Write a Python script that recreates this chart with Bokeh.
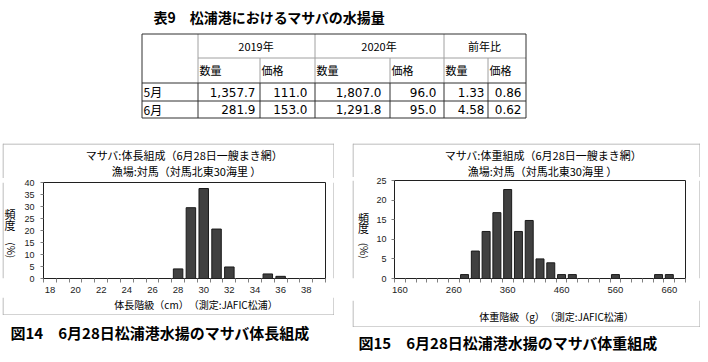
import math
from bokeh.plotting import figure
from bokeh.layouts import column, row, Spacer
from bokeh.models import Range1d, FixedTicker, ColumnDataSource
from bokeh.core.properties import value
from bokeh.embed import file_html
from bokeh.resources import INLINE

# ---------------- data ----------------
table_title = "表9　松浦港におけるマサバの水揚量"
year_headers = ["2019年", "2020年", "前年比"]
sub_headers = ["数量", "価格", "数量", "価格", "数量", "価格"]
months = ["5月", "6月"]
qty_2019 = [1357.7, 281.9]
price_2019 = [111.0, 153.0]
qty_2020 = [1807.0, 1291.8]
price_2020 = [96.0, 95.0]
ratio_qty = [1.33, 4.58]
ratio_price = [0.86, 0.62]

length_classes = [18, 19, 20, 21, 22, 23, 24, 25, 26, 27, 28, 29, 30, 31, 32, 33, 34, 35, 36, 37, 38, 39]
length_pct = [0, 0, 0, 0, 0, 0, 0, 0, 0, 0, 4.0, 29.5, 37.5, 20.6, 4.8, 0, 0, 1.9, 0.9, 0, 0, 0]
length_ticks = [18, 20, 22, 24, 26, 28, 30, 32, 34, 36, 38]
length_yticks = [0, 5, 10, 15, 20, 25, 30, 35, 40]

weight_classes = [160, 180, 200, 220, 240, 260, 280, 300, 320, 340, 360, 380, 400, 420,
                  440, 460, 480, 500, 520, 540, 560, 580, 600, 620, 640, 660, 680]
weight_pct = [0, 0, 0, 0, 0, 0, 1.0, 7.0, 12.0, 16.8, 22.7, 12.0, 14.8, 5.0,
              4.0, 1.0, 1.0, 0, 0, 0, 1.0, 0, 0, 0, 1.0, 1.0, 0]
weight_ticks = [160, 260, 360, 460, 560, 660]
weight_yticks = [0, 5, 10, 15, 20, 25]

len_title1 = "マサバ:体長組成（6月28日一艘まき網）"
len_title2 = "漁場:対馬（対馬北東30海里 ）"
len_xlabel = "体長階級（cm）　（測定:JAFIC松浦）"
len_caption = "図14　6月28日松浦港水揚のマサバ体長組成"
wt_title1 = "マサバ:体重組成（6月28日一艘まき網）"
wt_title2 = "漁場:対馬（対馬北東30海里 ）"
wt_xlabel = "体重階級（g）　（測定:JAFIC松浦）"
wt_caption = "図15　6月28日松浦港水揚のマサバ体重組成"
ylabel_chars = ["頻", "度"]
ylabel_unit = "(%)"

JP = "Noto Sans CJK JP"
NUM = "DejaVu Sans"
TICKF = "Liberation Sans"
BOXC = "#a6a6a6"


def text_fig(w, h):
    f = figure(width=w, height=h, output_backend="svg", toolbar_location=None,
               x_range=Range1d(0, w), y_range=Range1d(h, 0),
               min_border=0, min_border_left=0, min_border_right=0,
               min_border_top=0, min_border_bottom=0)
    f.axis.visible = False
    f.grid.visible = False
    f.outline_line_color = None
    f.title.visible = False
    return f


def put(f, x, y, t, size, font=JP, bold=False, align="center", angle=0.0):
    f.text(x=[x], y=[y], text=[t], text_font=value(font), text_font_size=size,
           text_font_style="bold" if bold else "normal", text_align=align,
           text_baseline="middle", text_color="black", angle=angle)


def lines(f, segs, color, width=1):
    d = dict(x0=[s[0] for s in segs], y0=[s[1] for s in segs],
             x1=[s[2] for s in segs], y1=[s[3] for s in segs])
    f.segment(x0="x0", y0="y0", x1="x1", y1="y1", line_color=color, line_width=width,
              source=ColumnDataSource(d))


# ---------------- table ----------------
TW, TH = 706, 143
tp = text_fig(TW, TH)
col_w = [56, 62, 55, 75, 54, 44, 38]
row_h = [24, 25, 18, 17]
xs = [141]
for w in col_w:
    xs.append(xs[-1] + w)
ys = [33]
for h in row_h:
    ys.append(ys[-1] + h)
X = [v + 0.5 for v in xs]
Y = [v + 0.5 for v in ys]

GRAY = "#a0a0a0"
DARK = "#303030"
gs, ds = [], []
gs.append((X[1], Y[1], X[7], Y[1]))
for i in (1, 3, 5):
    gs.append((X[i], Y[0], X[i], Y[2]))
    ds.append((X[i], Y[2], X[i], Y[4]))
for i in (2, 4, 6):
    gs.append((X[i], Y[1], X[i], Y[2]))
    ds.append((X[i], Y[2], X[i], Y[4]))
ds.append((X[0], Y[2], X[7], Y[2]))
ds.append((X[0], Y[3], X[7], Y[3]))
lines(tp, gs, GRAY)
lines(tp, ds, DARK)
tp.quad(left=[X[0]], right=[X[7]], top=[Y[0]], bottom=[Y[4]], fill_color=None, line_color=DARK, line_width=1)

put(tp, 153, 16.5, table_title, "14px", bold=True, align="left")
hx = [(xs[1] + xs[3]) / 2, (xs[3] + xs[5]) / 2, (xs[5] + xs[7]) / 2]
for x, t in zip(hx, year_headers):
    put(tp, x, (ys[0] + ys[1]) / 2, t, "11px")
for i, t in enumerate(sub_headers):
    put(tp, xs[i + 1] + 2, (ys[1] + ys[2]) / 2, t, "11px", align="left")
row_c = [(ys[2] + ys[3]) / 2 + 0.5, (ys[3] + ys[4]) / 2 + 0.5]
for y, t in zip(row_c, months):
    put(tp, xs[0] + 2, y - 0.5, t, "12px", align="left")

cols = [[f"{v:,.1f}" for v in qty_2019], [f"{v:,.1f}" for v in price_2019],
        [f"{v:,.1f}" for v in qty_2020], [f"{v:,.1f}" for v in price_2020],
        [f"{v:.2f}" for v in ratio_qty], [f"{v:.2f}" for v in ratio_price]]
pads = [4, 7, 8, 7, 3, 4]
vx, vy, vt = [], [], []
for ci, vals in enumerate(cols):
    for ri, t in enumerate(vals):
        vx.append(xs[ci + 2] - pads[ci]); vy.append(row_c[ri]); vt.append(t)
tp.text(x=vx, y=vy, text=vt, text_font=value(NUM), text_font_size="12px", text_align="right",
        text_baseline="middle", text_color="black")


# ---------------- histograms ----------------
def hist_fig(w, h, fl, fr, ft, fb, ystand, xstand, classes, pct, step, ymax, ticks, yticks):
    p = figure(width=w, height=h, output_backend="svg", toolbar_location=None,
               x_range=Range1d(classes[0] - step / 2, classes[-1] + step / 2),
               y_range=Range1d(0, ymax),
               min_border_left=fl, min_border_right=fr, min_border_top=ft, min_border_bottom=fb)
    p.title.visible = False
    p.grid.visible = False
    p.outline_line_color = "#202020"
    p.outline_line_width = 1
    xv = [c for c, v in zip(classes, pct) if v > 0]
    tv = [v for v in pct if v > 0]
    p.vbar(x=xv, top=tv, width=step * 0.74, fill_color="#404040", line_color="#1a1a1a", line_width=1)

    bounds = [c - step / 2 for c in classes] + [classes[-1] + step / 2]
    p.xaxis.ticker = FixedTicker(ticks=ticks, minor_ticks=bounds)
    p.xaxis.major_tick_line_color = None
    p.xaxis.major_tick_out = 4
    p.xaxis.major_tick_in = 0
    p.xaxis.minor_tick_out = 4
    p.xaxis.minor_tick_in = 0
    p.xaxis.minor_tick_line_color = "#808080"
    p.xaxis.major_label_standoff = xstand
    p.xaxis.major_label_text_font_size = "9.5px"
    p.yaxis.ticker = FixedTicker(ticks=yticks, minor_ticks=[])
    p.yaxis.major_tick_out = 3
    p.yaxis.major_tick_in = 0
    p.yaxis.minor_tick_line_color = None
    p.yaxis.major_tick_line_color = "#808080"
    p.yaxis.major_label_standoff = ystand
    p.yaxis.major_label_text_font_size = "9px"
    for ax in (p.xaxis, p.yaxis):
        ax.axis_line_color = "#202020"
        ax.major_label_text_font = TICKF
        ax.major_label_text_color = "#222222"
    return p


def chart_block(W, Ht, Hp, Hx, Hc, wy, wp, wr, fl, fr, ft, fb, ystand, xstand,
                classes, pct, step, ymax, ticks, yticks,
                t1, t2, tpos1, tpos2, xlabel, xlpos, caption, cappos, ylx, ly):
    # title area (top of box)
    tf = text_fig(W, Ht)
    lines(tf, [(0.5, 0.5, W - 0.5, 0.5), (0.5, 0, 0.5, Ht), (W - 0.5, 0, W - 0.5, Ht)], BOXC)
    put(tf, tpos1[0], tpos1[1], t1, "11px")
    put(tf, tpos2[0], tpos2[1], t2, "11px")
    # y label strip
    yf = text_fig(wy, Hp)
    lines(yf, [(0.5, 0, 0.5, Hp)], BOXC)
    put(yf, ylx[0], ly[0], ylabel_chars[0], "11px")
    put(yf, ylx[0], ly[1], ylabel_chars[1], "11px")
    put(yf, ylx[1], ly[2], ylabel_unit, "10px", angle=-math.pi / 2)
    # plot
    pf = hist_fig(wp, Hp, fl, fr, ft, fb, ystand, xstand, classes, pct, step, ymax, ticks, yticks)
    # right strip
    rf = text_fig(wr, Hp)
    lines(rf, [(wr - 0.5, 0, wr - 0.5, Hp)], BOXC)
    # x label area (bottom of box)
    xf = text_fig(W, Hx)
    lines(xf, [(0.5, Hx - 0.5, W - 0.5, Hx - 0.5), (0.5, 0, 0.5, Hx), (W - 0.5, 0, W - 0.5, Hx)], BOXC)
    put(xf, xlpos[0], xlpos[1], xlabel, "10px")
    # caption
    cf = text_fig(W, Hc)
    put(cf, cappos[0], cappos[1], caption, "15px", bold=True, align="left")
    return column(tf, row(yf, pf, rf, spacing=0), xf, cf, spacing=0)


# left chart: box x 2..334, y 143..315; frame x 43..325, y 182..278
left = chart_block(332, 35, 119, 18, 45, 18, 310, 4, 23, 5, 4, 19, 6, 4,
                   length_classes, length_pct, 1, 40, length_ticks, length_yticks,
                   len_title1, len_title2, (182, 11.1), (184, 27.5),
                   len_xlabel, (193.5, 7.4), len_caption, (8, 17), (7.5, 8.6), (39.1, 52.1, 84))
# right chart: box x 352..700, y 143..327; frame x 394..685, y 180..278
right = chart_block(348, 34, 123, 27, 33, 20, 324, 4, 22, 11, 3, 22, 5, 4,
                    weight_classes, weight_pct, 20, 25, weight_ticks, weight_yticks,
                    wt_title1, wt_title2, (191, 11.1), (190, 27),
                    wt_xlabel, (204, 15.8), wt_caption, (6, 15.4), (11, 12), (47.1, 60.1, 88))

layout = column(tp, row(Spacer(width=2, height=217), left, Spacer(width=18, height=217), right, spacing=0),
                spacing=0)
open("out.html", "w").write(file_html(layout, INLINE))
